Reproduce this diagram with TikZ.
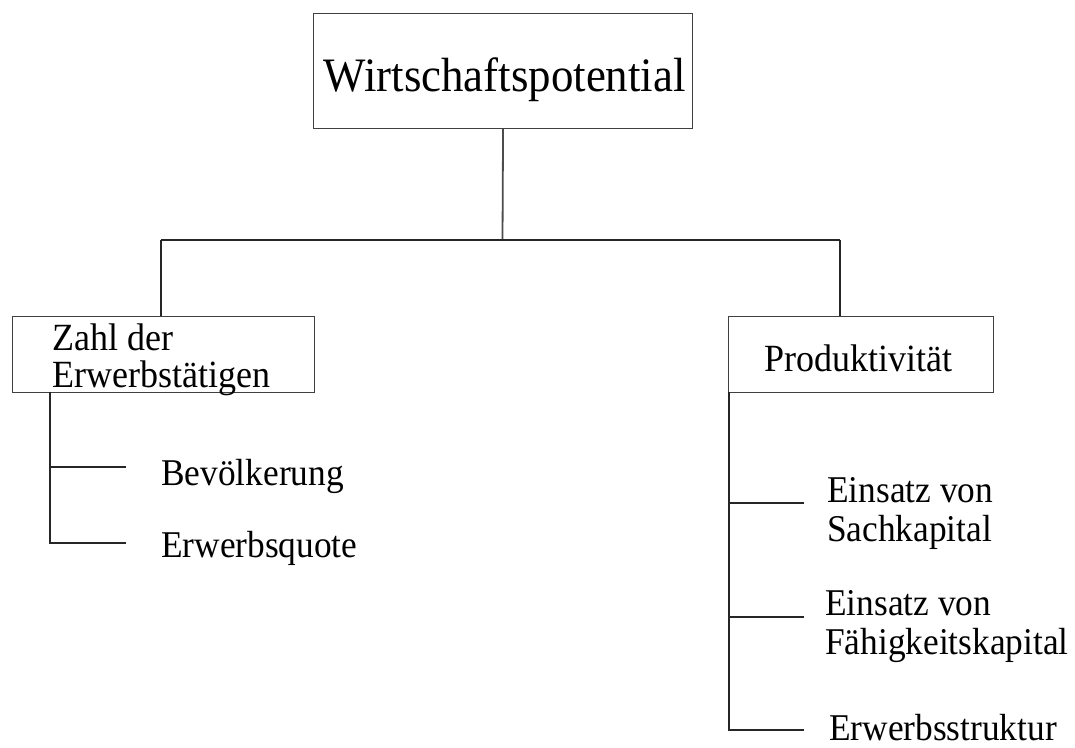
\documentclass[tikz,border=0pt]{standalone}
\usepackage{fontspec}
\setmainfont[FakeStretch=0.935]{Liberation Serif}

% boxed cell: width, height, left indent, first-line strut height, font size, text
\newcommand{\cellbox}[6]{%
  \parbox[c][#2][t]{#1}{\fontsize{#5}{37pt}\selectfont\leftskip=#3\relax
    \rule{0pt}{#4}#6}}

\begin{document}
\begin{tikzpicture}[x=1pt,y=-1pt,
    box/.style={draw=black!75,line width=1.1pt,inner sep=0pt,anchor=north west},
    leaf/.style={inner sep=0pt,anchor=base west,font=\fontsize{37.8}{39}\selectfont},
    link/.style={draw=black!85,line width=1.2pt},
    stem/.style={draw=black!70,line width=1.8pt}]
\useasboundingbox (0,0) rectangle (1075,747);

% boxes
\node[box] (wirt) at (313,13) {\cellbox{379pt}{115pt}{10pt}{78pt}{48}{Wirtschaftspotential}};
\node[box] (zahl) at (12,316) {\cellbox{302pt}{76pt}{40pt}{34pt}{38.5}{Zahl der\\Erwerbstätigen}};
\node[box] (prod) at (728,316) {\cellbox{265pt}{76pt}{36pt}{55pt}{38.5}{Produktivität}};

% leaves
\node[leaf] (bev) at (161,485) {Bevölkerung};
\node[leaf] (quote) at (161,557) {Erwerbsquote};
\node[leaf] (sach) at (827,502) {\begin{tabular}[t]{@{}l@{}}Einsatz von\\Sachkapital\end{tabular}};
\node[leaf] (faeh) at (825,615) {\begin{tabular}[t]{@{}l@{}}Einsatz von\\Fähigkeitskapital\end{tabular}};
\node[leaf] (struk) at (829,740) {Erwerbsstruktur};

% top level connectors
\coordinate (j) at (502.5,240);
\coordinate (hl) at (161,240);
\coordinate (hr) at (840,240);
\draw[stem] (wirt.south) -- (j);
\draw[link] (hl) -- (hr);
\draw[link] (hl) -- (hl |- zahl.north);
\draw[link] (hr) -- (hr |- prod.north);

% left branch
\coordinate (lt) at (50,392);
\coordinate (l1) at (50,467);
\coordinate (l2) at (50,543);
\coordinate (l1e) at (126,467);
\coordinate (l2e) at (126,543);
\draw[link] (lt) -- (l2) -- (l2e);
\draw[link] (l1) -- (l1e);

% right branch
\coordinate (rt) at (729,392);
\coordinate (r1) at (729,503);
\coordinate (r2) at (729,617);
\coordinate (r3) at (729,730);
\coordinate (r1e) at (804,503);
\coordinate (r2e) at (804,617);
\coordinate (r3e) at (804,730);
\draw[link] (rt) -- (r3) -- (r3e);
\draw[link] (r1) -- (r1e);
\draw[link] (r2) -- (r2e);
\end{tikzpicture}
\end{document}
